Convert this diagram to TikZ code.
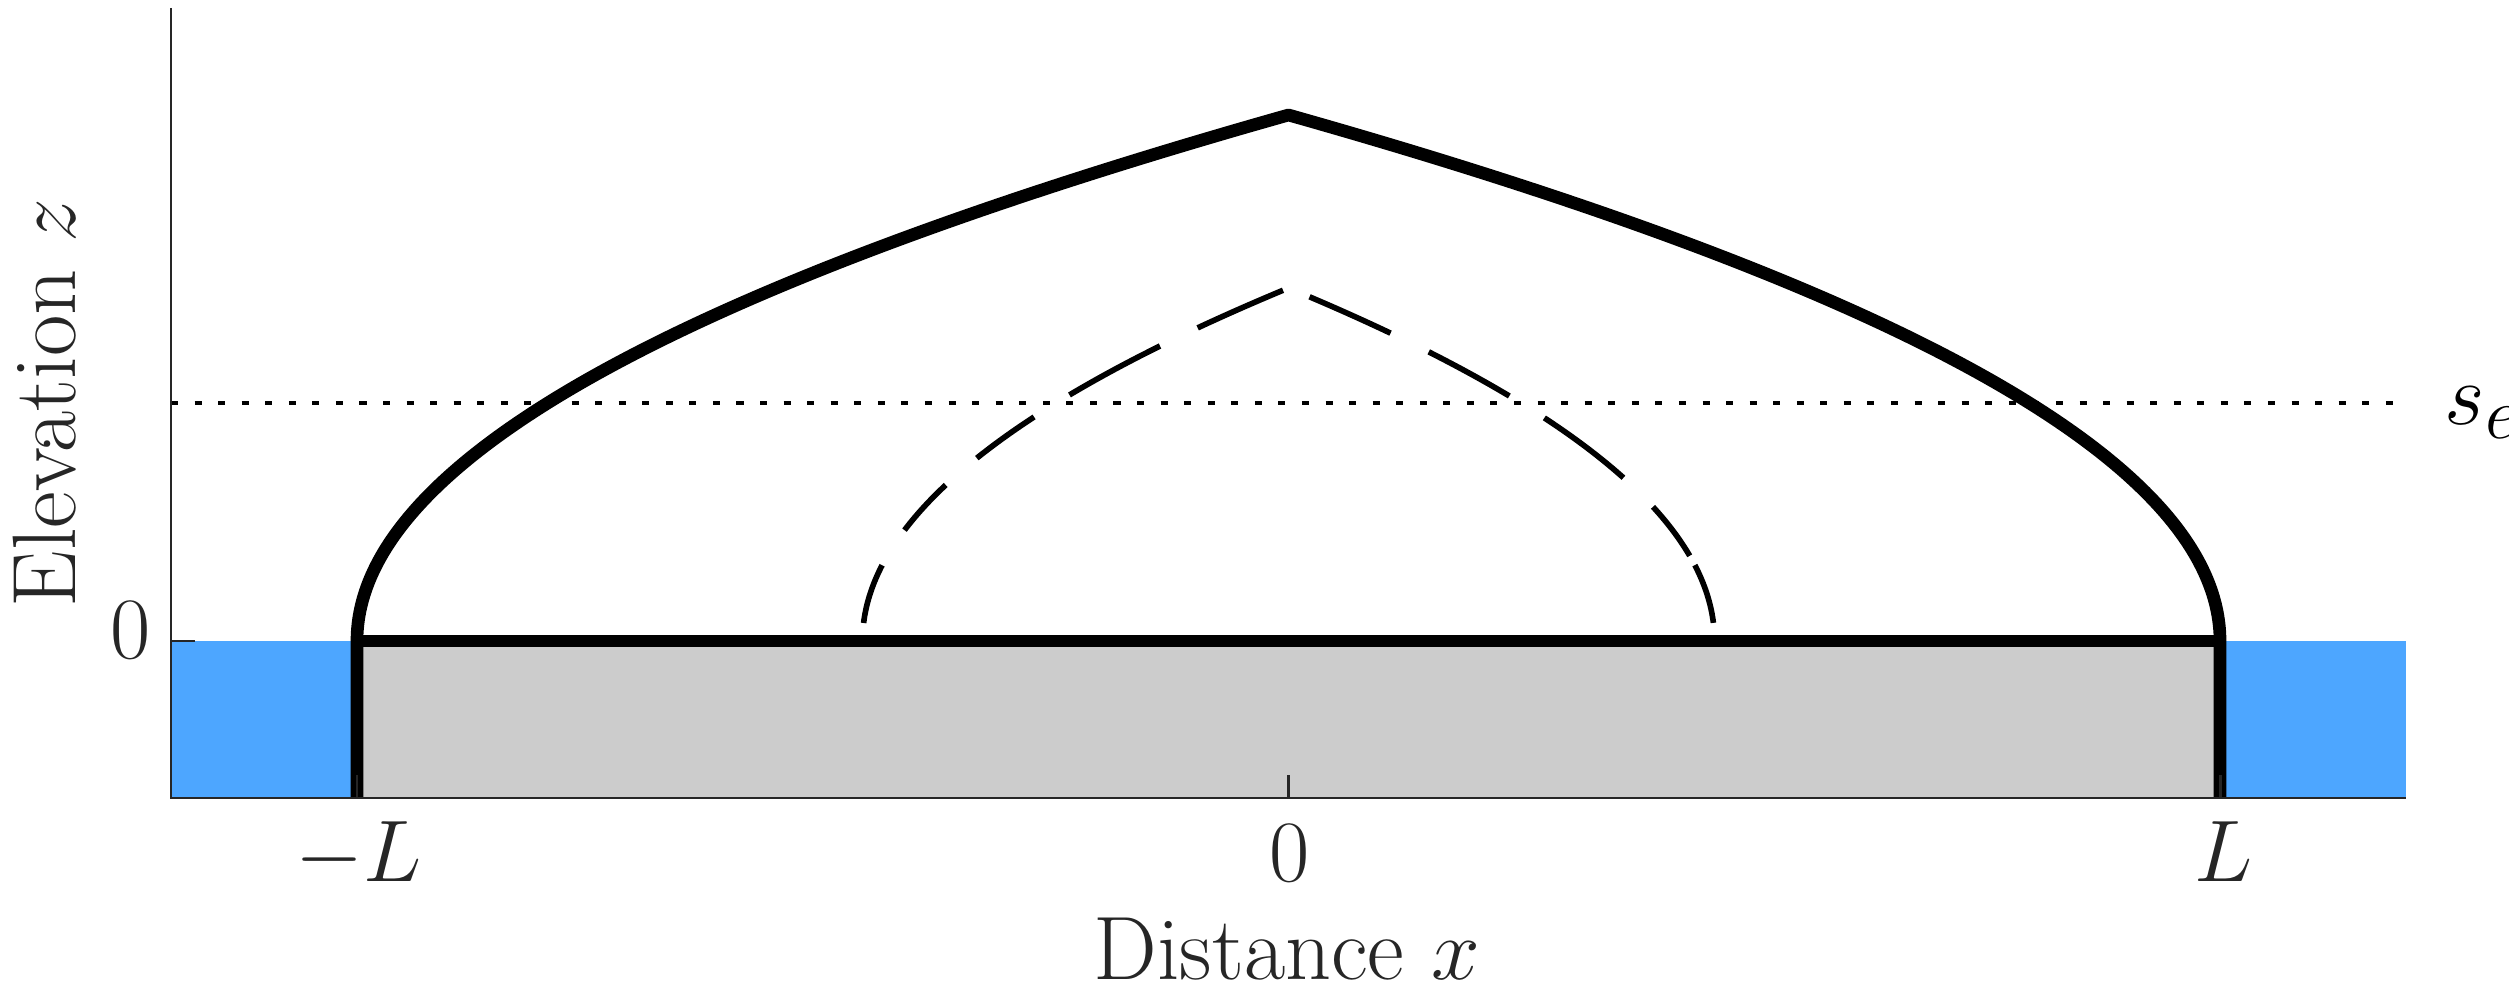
\documentclass[tikz,border=0pt]{standalone}
\usepackage{xcolor}
\definecolor{axc}{HTML}{262626}
\definecolor{sea}{HTML}{4DA6FF}
\definecolor{bed}{HTML}{CCCCCC}
\newcommand\icedashL[2]{\draw[dashseg] plot[variable=\u,domain=#1:#2,samples=40] ({1288.5-426*(1-\u*\u)},{641-353*\u});}
\newcommand\icedashR[2]{\draw[dashseg] plot[variable=\u,domain=#1:#2,samples=40] ({1288.5+426*(1-\u*\u)},{641-353*\u});}
\begin{document}
\begin{tikzpicture}[x=0.01cm,y=-0.01cm,
  profile/.style={line width=3.6pt, line join=round},
  dashseg/.style={line width=1.6pt},
  dotline/.style={line width=1.2pt, dash pattern=on 2pt off 4.7pt},
  axisline/.style={axc, line width=0.85pt},
  lbl/.style={text=axc, font=\fontsize{23.3}{28}\selectfont, inner sep=0pt},
  axlbl/.style={text=axc, font=\fontsize{25.6}{30}\selectfont, inner sep=0pt},
  biglbl/.style={text=black, font=\fontsize{32}{38}\selectfont, inner sep=0pt}]
\useasboundingbox (0,0) rectangle (2509,995);
% water and bed
\fill[sea] (171,641) rectangle (357,798);
\fill[sea] (2220,641) rectangle (2406,798);
\fill[bed] (357,641) rectangle (2220,798);
% equilibrium line
\draw[dotline] (171,403) -- (2406,403);
% ice sheet profile
\draw[profile] (357,798) -- plot[variable=\u, domain=0:1, samples=150] ({1288.5-931.5*(1-\u*\u)},{641-526*\u})
  -- plot[variable=\u, domain=1:0, samples=150] ({1288.5+931.5*(1-\u*\u)},{641-526*\u}) -- (2220,798);
\draw[profile] (357,641) -- (2220,641);
% dashed inner profile
\icedashL{0.051}{0.215}
\icedashL{0.314}{0.442}
\icedashL{0.518}{0.635}
\icedashL{0.697}{0.836}
\icedashL{0.887}{0.994}
\icedashR{0.975}{0.872}
\icedashR{0.819}{0.694}
\icedashR{0.632}{0.462}
\icedashR{0.380}{0.241}
\icedashR{0.215}{0.051}
% axes
\draw[axisline] (171,8) -- (171,798) -- (2406,798);
\draw[axisline] (171,641) -- (195,641);
\draw[axisline] (357,798) -- (357,775);
\draw[axisline] (1288.5,798) -- (1288.5,775);
\draw[axisline] (2220,798) -- (2220,775);
% labels
\node[lbl, anchor=base east] (yzero) at (151,659) {$0$};
\node[lbl, anchor=base] (xmL) at (359,882) {$-L$};
\node[lbl, anchor=base] (xzero) at (1290,882) {$0$};
\node[lbl, anchor=base] (xL) at (2224,882) {$L$};
\node[axlbl, anchor=base] (xlab) at (1287,980) {Distance $x$};
\node[axlbl, anchor=base, rotate=90] (ylab) at (75,403) {Elevation $z$};
\node[biglbl, anchor=base west] (se) at (2444,425) {$s_e$};
\end{tikzpicture}
\end{document}
